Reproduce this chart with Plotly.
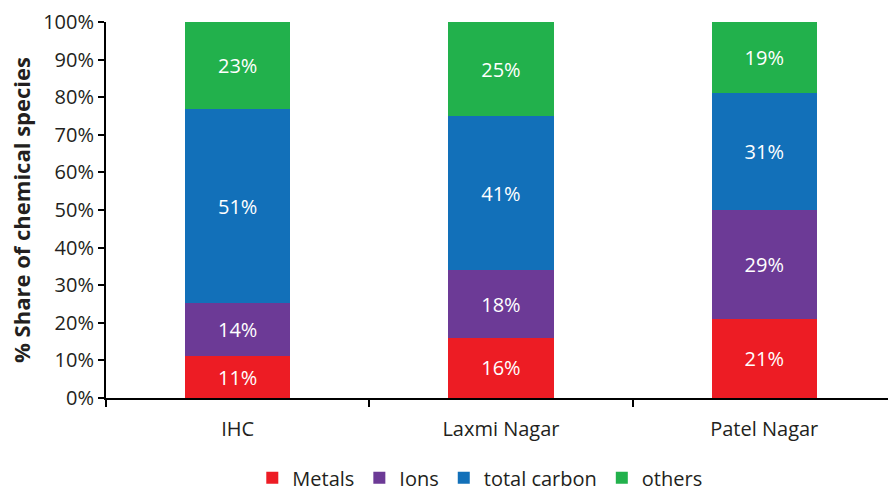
import plotly.graph_objects as go

# Sites and percentage share of each chemical species
sites = ["IHC", "Laxmi Nagar", "Patel Nagar"]
metals = [11, 16, 21]
ions = [14, 18, 29]
total_carbon = [51, 41, 31]
others = [23, 25, 19]

series = [
    ("Metals", metals, "#ED1C24"),
    ("Ions", ions, "#6C3A96"),
    ("total carbon", total_carbon, "#1270B9"),
    ("others", others, "#22B14C"),
]

FONT = "Open Sans"
INK = "#231F20"

fig = go.Figure()
for name, vals, color in series:
    fig.add_trace(go.Bar(
        x=sites,
        y=vals,
        name=name,
        marker=dict(color=color, line=dict(width=0)),
        text=vals,
        texttemplate="%{text}%",
        textposition="inside",
        insidetextanchor="middle",
        textangle=0,
        textfont=dict(family=FONT, size=20, color="white"),
        hoverinfo="skip",
    ))

fig.update_layout(
    barmode="stack",
    barnorm="percent",
    bargap=0.6,
    width=890,
    height=495,
    margin=dict(l=106, r=2, t=22, b=97, autoexpand=False),
    paper_bgcolor="white",
    plot_bgcolor="white",
    font=dict(family=FONT, size=20, color=INK),
    uniformtext=dict(mode=False),
    showlegend=True,
    legend=dict(
        orientation="h",
        x=0.478,
        xanchor="center",
        y=-0.212,
        yanchor="middle",
        font=dict(family=FONT, size=20, color=INK),
        traceorder="normal",
        itemsizing="constant",
        itemwidth=30,
    ),
)

fig.update_xaxes(
    type="category",
    range=[-0.5, 2.47],
    showline=True,
    linecolor="black",
    linewidth=2,
    ticks="outside",
    tickson="boundaries",
    ticklen=7,
    tickwidth=2,
    tickcolor="black",
    ticklabelstandoff=12,
    tickfont=dict(family=FONT, size=20, color=INK),
    showgrid=False,
    zeroline=False,
)

fig.update_yaxes(
    range=[0, 100],
    tickvals=list(range(0, 101, 10)),
    ticktext=[f"{v}%" for v in range(0, 101, 10)],
    showline=True,
    linecolor="black",
    linewidth=2,
    ticks="outside",
    ticklen=6,
    tickwidth=2,
    tickcolor="black",
    tickfont=dict(family=FONT, size=20, color=INK),
    showgrid=False,
    zeroline=False,
    title=dict(
        text="<b>% Share of chemical species</b>",
        font=dict(family=FONT, size=22, color=INK),
        standoff=6,
    ),
)

fig.write_html("out.html")
